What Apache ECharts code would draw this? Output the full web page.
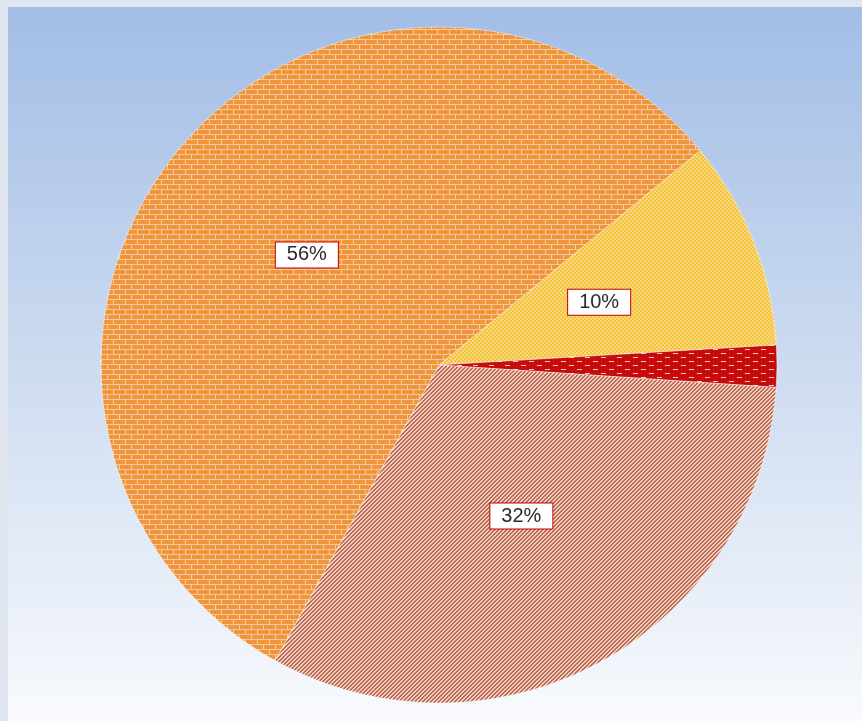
<!DOCTYPE html>
<html><head><meta charset="utf-8">
<script src="https://cdn.jsdelivr.net/npm/echarts@6/dist/echarts.min.js"></script>
<style>html,body{margin:0;padding:0;background:#dfe6f0;}#c{width:862px;height:721px;}</style>
</head><body><div id="c"></div>
<script>
const categories = ['Yellow', 'Red', 'Brown', 'Orange'];
const values = [10, 2, 32, 56];
const showLabel = [true, false, true, true];

function pat(w, h, draw) {
  const c = document.createElement('canvas'); c.width = w; c.height = h;
  const g = c.getContext('2d'); draw(g); return {image: c, repeat: 'repeat'};
}
const brick = pat(12, 10, g => {
  g.fillStyle = '#f0953a'; g.fillRect(0,0,12,10);
  g.fillStyle = '#f8c9a0';
  g.fillRect(0,4,12,1); g.fillRect(0,9,12,1);
  g.fillRect(5,0,1,4); g.fillRect(11,5,1,4);
});
const checker = pat(4, 4, g => {
  g.fillStyle = '#f4c23c'; g.fillRect(0,0,4,4);
  g.fillStyle = '#f8d878'; g.fillRect(0,0,2,2); g.fillRect(2,2,2,2);
});
const dashes = pat(16, 8, g => {
  g.fillStyle = '#c80c0c'; g.fillRect(0,0,16,8);
  g.fillStyle = '#f6c8c8'; g.fillRect(1,1,5,1); g.fillRect(9,5,5,1);
});
const diag = pat(4, 4, g => {
  g.fillStyle = '#f2cfc0'; g.fillRect(0,0,4,4);
  g.fillStyle = '#b86a52';
  for (let i = 0; i < 4; i++) { g.fillRect((3 - i + 4) % 4, i, 1, 1); g.fillRect((4 - i + 4) % 4, i, 1, 1); }
});
const fills = [checker, dashes, diag, brick];

const chart = echarts.init(document.getElementById('c'), null, {renderer: 'canvas'});
chart.setOption({
  backgroundColor: '#dfe6f0',
  graphic: [{
    type: 'rect', left: 8, top: 7, z: -10,
    shape: {width: 854, height: 714},
    style: {fill: new echarts.graphic.LinearGradient(0,0,0,1,[
      {offset: 0, color: '#a2bde6'}, {offset: 0.5, color: '#cddbf0'}, {offset: 1, color: '#f8fafd'}])}
  }],
  series: [{
    type: 'pie',
    center: [439, 365],
    radius: 338,
    startAngle: 39.4,
    clockwise: true,
    animation: false,
    itemStyle: {borderColor: 'rgba(255,255,255,0.45)', borderWidth: 1},
    label: {
      position: 'inside',
      formatter: p => p.value + '%',
      fontFamily: 'Liberation Sans, Arial, sans-serif',
      fontSize: 20,
      color: '#2a2a2a',
      backgroundColor: '#fff',
      borderColor: '#c00000',
      borderWidth: 1,
      padding: [3, 11, 2, 11]
    },
    labelLine: {show: false},
    emphasis: {disabled: true},
    data: categories.map((n, i) => ({
      name: n, value: values[i],
      itemStyle: {color: fills[i]},
      label: {show: showLabel[i]}
    }))
  }]
});
</script></body></html>
